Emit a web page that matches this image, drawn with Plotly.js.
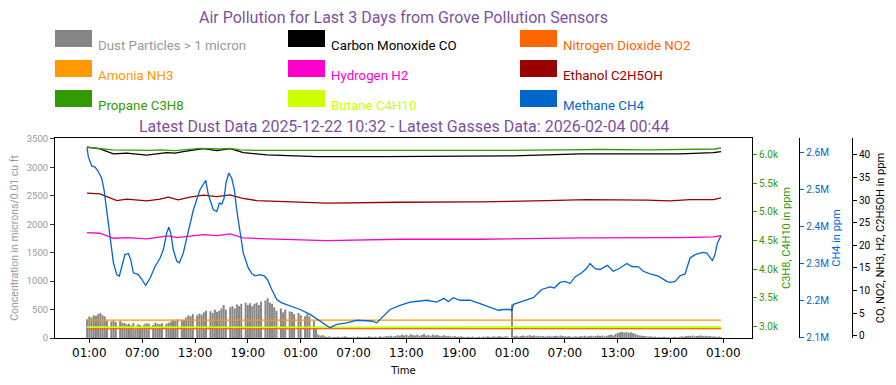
<!DOCTYPE html>
<html><head><meta charset="utf-8">
<script src="https://cdn.plot.ly/plotly-3.0.1.min.js"></script>
<style>body{margin:0;background:#fff}#c{width:896px;height:385px}</style>
</head><body><div id="c"></div>
<script>
// ---------------- DATA ----------------
const mainTitle = "Air Pollution for Last 3 Days from Grove Pollution Sensors";
const subTitle = "Latest Dust Data 2025-12-22 10:32 - Latest Gasses Data: 2026-02-04 00:44";

const legendNames = ["Dust Particles > 1 micron","Carbon Monoxide CO","Nitrogen Dioxide NO2",
  "Amonia NH3","Hydrogen H2","Ethanol C2H5OH","Propane C3H8","Butane C4H10","Methane CH4"];
const legendColors = ["#858585","#000000","#ff6600","#ff9900","#ff00cc","#990000","#339900","#ccff00","#0066cc"];
const legendTextColors = ["#999999","#000000","#ff6600","#ff9900","#ff00cc","#990000","#339900","#ccff00","#0066cc"];

// Dust: one reading every 15 minutes starting 2026-02-01 00:45
const dustStart = "2026-02-01 00:45";
const dustStepMin = 15;
const dustValues = [330,
 380,360,400,390, 420,440,400,380, 300,0,290,310, 280,0,300,270, 260,240,250,220, 260,150,240,230,
 200,240,260,250, 0,230,270,250, 240,260,0,250, 270,290,320,300, 330,0,320,310, 360,400,380,420,
 0,400,430,410, 450,480,0,470, 440,500,460,480, 520,580,500,0, 540,560,520,590, 560,600,0,620,
 580,610,560,600, 620,580,640,0, 660,700,620,600, 540,480,0,520, 450,500,0,470, 460,420,0,440,
 400,0,380,420, 380,0,300,200, 60,40,50,30, 20,30,10,20, 15,25,10,20, 30,20,10,15,
 20,10,25,15, 10,20,15,30, 20,15,25,10, 30,20,25,35, 30,40,25,35, 50,40,60,45,
 55,40,65,50, 45,60,40,55, 70,45,50,40, 60,45,55,40, 35,50,30,40, 30,25,35,20,
 25,30,20,15, 20,15,25,10, 15,20,10,25, 20,30,15,25, 30,20,35,25, 20,30,25,0,
 590,30,40,25, 35,45,30,40, 50,35,45,30, 40,30,35,25, 30,40,25,35, 40,30,45,35,
 30,25,35,20, 25,30,20,35, 30,40,25,35, 40,30,35,45, 35,45,30,40, 50,60,45,70,
 90,100,110,95, 105,90,100,85, 70,55,45,40, 35,30,25,30, 20,25,15,20, 15,20,10,15,
 10,15,20,10, 20,30,25,35, 40,35,45,30, 35,40,45,35, 40,30,35,25, 30,20,25,15];

const coTimes = ["2026-02-01 00:44","2026-02-01 02:13","2026-02-01 03:44","2026-02-01 05:15","2026-02-01 07:31",
 "2026-02-01 09:47","2026-02-01 10:44","2026-02-01 11:40","2026-02-01 13:57","2026-02-01 15:28","2026-02-01 16:59",
 "2026-02-01 18:29","2026-02-01 21:09","2026-02-02 02:49","2026-02-02 10:23","2026-02-02 17:35","2026-02-03 01:09",
 "2026-02-03 08:43","2026-02-03 20:05","2026-02-03 23:52","2026-02-04 00:44"];
const coValues = [41.71,41.33,40.22,40.38,39.94,40.51,40.38,40.73,41.40,40.96,41.40,40.51,40.00,39.63,39.63,39.78,39.78,40.22,40.22,40.51,40.73];

const ethTimes = ["2026-02-01 00:44","2026-02-01 02:13","2026-02-01 02:59","2026-02-01 04:07","2026-02-01 05:15",
 "2026-02-01 06:23","2026-02-01 07:31","2026-02-01 09:02","2026-02-01 09:58","2026-02-01 11:06","2026-02-01 12:26",
 "2026-02-01 13:57","2026-02-01 15:28","2026-02-01 16:59","2026-02-01 18:18","2026-02-01 20:01","2026-02-01 23:02",
 "2026-02-02 03:58","2026-02-02 12:17","2026-02-02 21:22","2026-02-03 04:57","2026-02-03 09:29","2026-02-03 16:18",
 "2026-02-03 18:57","2026-02-03 21:13","2026-02-03 23:52","2026-02-04 00:44"];
const ethValues = [31.53,31.37,30.77,29.89,30.20,30.04,29.82,30.20,30.64,30.04,30.64,31.08,30.77,31.15,30.42,29.89,29.67,
 29.31,29.53,29.60,29.89,30.11,29.98,29.82,30.11,30.11,30.49];

const h2Times = ["2026-02-01 00:44","2026-02-01 02:13","2026-02-01 03:44","2026-02-01 05:15","2026-02-01 07:31",
 "2026-02-01 09:58","2026-02-01 10:56","2026-02-01 12:26","2026-02-01 13:57","2026-02-01 15:28","2026-02-01 16:59",
 "2026-02-01 18:29","2026-02-01 21:09","2026-02-02 03:58","2026-02-02 12:17","2026-02-02 21:22","2026-02-03 08:43",
 "2026-02-03 20:05","2026-02-03 23:52","2026-02-04 00:44"];
const h2Values = [22.80,22.67,21.56,21.70,21.41,22.07,21.70,22.07,22.36,22.14,22.51,21.63,21.41,21.03,21.34,21.34,21.63,21.70,21.85,22.14];

const nh3Times = ["2026-02-01 00:44","2026-02-02 12:44","2026-02-04 00:44"];
const nh3Values = [3.43,3.43,3.43];
const no2Times = ["2026-02-01 00:44","2026-02-02 12:44","2026-02-04 00:44"];
const no2Values = [1.55,1.55,1.55];

const propTimes = ["2026-02-01 00:44","2026-02-01 02:13","2026-02-01 03:41","2026-02-01 07:54","2026-02-01 09:02",
 "2026-02-01 10:44","2026-02-01 13:34","2026-02-01 15:51","2026-02-01 16:59","2026-02-01 18:07","2026-02-01 20:23",
 "2026-02-02 00:56","2026-02-02 10:01","2026-02-02 17:58","2026-02-02 23:38","2026-02-03 06:27","2026-02-03 11:00",
 "2026-02-03 16:40","2026-02-03 22:21","2026-02-04 00:03","2026-02-04 00:44"];
const propValues = [6122,6101,6075,6066,6078,6062,6101,6092,6104,6075,6066,6066,6062,6069,6066,6075,6083,6075,6083,6092,6113];

const butTimes = ["2026-02-01 00:44","2026-02-01 12:00","2026-02-02 00:00","2026-02-02 12:00","2026-02-03 00:00","2026-02-03 12:00","2026-02-04 00:44"];
const butValues = [2992,2988,2994,2990,2993,2989,2992];

const ch4Times = ["2026-02-01 00:44","2026-02-01 00:53","2026-02-01 01:16","2026-02-01 01:39","2026-02-01 02:01",
 "2026-02-01 02:24","2026-02-01 02:40","2026-02-01 02:59","2026-02-01 03:21","2026-02-01 03:44","2026-02-01 04:07",
 "2026-02-01 04:24","2026-02-01 04:41","2026-02-01 05:03","2026-02-01 05:26","2026-02-01 05:42","2026-02-01 06:00",
 "2026-02-01 06:34","2026-02-01 06:57","2026-02-01 07:24","2026-02-01 07:54","2026-02-01 08:28","2026-02-01 09:02",
 "2026-02-01 09:24","2026-02-01 09:47","2026-02-01 10:01","2026-02-01 10:15","2026-02-01 10:32","2026-02-01 10:56",
 "2026-02-01 11:13","2026-02-01 11:40","2026-02-01 12:15","2026-02-01 12:49","2026-02-01 13:34","2026-02-01 14:13",
 "2026-02-01 14:31","2026-02-01 15:05","2026-02-01 15:28","2026-02-01 15:46","2026-02-01 16:02","2026-02-01 16:18",
 "2026-02-01 16:31","2026-02-01 16:50","2026-02-01 17:10","2026-02-01 17:28","2026-02-01 17:44","2026-02-01 18:07",
 "2026-02-01 18:29","2026-02-01 19:03","2026-02-01 19:27","2026-02-01 19:49","2026-02-01 20:23","2026-02-01 20:50",
 "2026-02-01 21:13","2026-02-01 21:43","2026-02-01 22:17","2026-02-01 22:51","2026-02-01 23:36","2026-02-02 00:22",
 "2026-02-02 00:56","2026-02-02 02:04","2026-02-02 03:12","2026-02-02 04:20","2026-02-02 05:06","2026-02-02 06:14",
 "2026-02-02 07:22","2026-02-02 08:30","2026-02-02 09:04","2026-02-02 09:38","2026-02-02 10:12","2026-02-02 11:09",
 "2026-02-02 12:17","2026-02-02 13:25","2026-02-02 14:33","2026-02-02 15:19","2026-02-02 16:27","2026-02-02 17:17",
 "2026-02-02 17:46","2026-02-02 18:20","2026-02-02 19:06","2026-02-02 20:14","2026-02-02 21:22","2026-02-02 22:30",
 "2026-02-02 23:27","2026-02-03 00:01","2026-02-03 00:47","2026-02-03 00:58","2026-02-03 01:09","2026-02-03 01:55",
 "2026-02-03 02:51","2026-02-03 03:25","2026-02-03 04:22","2026-02-03 05:19","2026-02-03 05:48","2026-02-03 06:27",
 "2026-02-03 07:01","2026-02-03 07:35","2026-02-03 08:09","2026-02-03 08:55","2026-02-03 09:24","2026-02-03 09:52",
 "2026-02-03 10:26","2026-02-03 11:00","2026-02-03 11:49","2026-02-03 12:30","2026-02-03 13:16","2026-02-03 14:02",
 "2026-02-03 14:36","2026-02-03 15:21","2026-02-03 15:55","2026-02-03 16:40","2026-02-03 17:37","2026-02-03 18:34",
 "2026-02-03 18:57","2026-02-03 19:31","2026-02-03 20:05","2026-02-03 20:39","2026-02-03 21:13","2026-02-03 21:47",
 "2026-02-03 22:21","2026-02-03 22:44","2026-02-03 23:07","2026-02-03 23:24","2026-02-03 23:45","2026-02-04 00:03",
 "2026-02-04 00:19","2026-02-04 00:44"];
const ch4Values = [2613000,2588000,2563000,2560000,2548000,2530000,2499000,2445000,2373000,2302000,2270000,
 2266000,2292000,2324000,2327000,2310000,2275000,2270000,2257000,2241000,2261000,2292000,2315000,
 2337000,2382000,2398000,2382000,2337000,2306000,2302000,2328000,2391000,2445000,2499000,2524000,
 2485000,2445000,2440000,2463000,2460000,2476000,2517000,2544000,2530000,2499000,2445000,2382000,
 2328000,2288000,2273000,2267000,2270000,2267000,2257000,2230000,2203000,2194000,2187000,2181000,
 2176000,2163000,2145000,2127000,2136000,2140000,2147000,2147000,2145000,2140000,2154000,2176000,
 2187000,2196000,2199000,2201000,2196000,2206000,2197000,2208000,2201000,2201000,2192000,2183000,
 2174000,2176000,2176000,2173000,2190000,2196000,2203000,2208000,2230000,2237000,2234000,2249000,
 2252000,2246000,2264000,2275000,2285000,2300000,2286000,2284000,2295000,2279000,2288000,2300000,
 2292000,2291000,2279000,2272000,2266000,2252000,2249000,2252000,2267000,2272000,2315000,2324000,
 2328000,2330000,2328000,2319000,2308000,2324000,2355000,2375000];

// ---------------- BUILD ----------------
function fmt(ms){const d=new Date(ms);const p=n=>String(n).padStart(2,'0');
  return d.getUTCFullYear()+'-'+p(d.getUTCMonth()+1)+'-'+p(d.getUTCDate())+' '+p(d.getUTCHours())+':'+p(d.getUTCMinutes());}
const t0 = Date.parse(dustStart.replace(' ','T')+':00Z');
const dustTimes = dustValues.map((_,i)=>fmt(t0+i*dustStepMin*60000));

const L=55, R=852, TOP=138, BOT=338;
const px=x=>(x-L)/(R-L), py=y=>(BOT-y)/(BOT-TOP);

// axis ids: y = dust, y2 = CO etc., y3 = C3H8/C4H10, y4 = CH4
const lw=1.3;
const traces=[
 {type:'bar',x:dustTimes,y:dustValues,width:13.5*60000,marker:{color:legendColors[0],line:{width:0}},yaxis:'y',xaxis:'x'},
 {type:'scatter',mode:'lines',x:coTimes,y:coValues,line:{color:legendColors[1],width:lw},yaxis:'y2'},
 {type:'scatter',mode:'lines',x:no2Times,y:no2Values,line:{color:legendColors[2],width:lw},yaxis:'y2'},
 {type:'scatter',mode:'lines',x:nh3Times,y:nh3Values,line:{color:legendColors[3],width:lw},yaxis:'y2'},
 {type:'scatter',mode:'lines',x:h2Times,y:h2Values,line:{color:legendColors[4],width:lw},yaxis:'y2'},
 {type:'scatter',mode:'lines',x:ethTimes,y:ethValues,line:{color:legendColors[5],width:lw},yaxis:'y2'},
 {type:'scatter',mode:'lines',x:propTimes,y:propValues,line:{color:legendColors[6],width:lw},yaxis:'y3'},
 {type:'scatter',mode:'lines',x:butTimes,y:butValues,line:{color:legendColors[7],width:1.6},yaxis:'y3'},
 {type:'scatter',mode:'lines',x:ch4Times,y:ch4Values,line:{color:legendColors[8],width:lw},yaxis:'y4'}
];

const shapes=[], annotations=[];
const colX=[55,288,520];
legendNames.forEach((n,k)=>{
  const c=k%3, r=Math.floor(k/3);
  const x0=colX[c], y0=30+30*r;
  shapes.push({type:'rect',xref:'paper',yref:'paper',x0:px(x0),x1:px(x0+37),y0:py(y0+17),y1:py(y0),
    fillcolor:legendColors[k],line:{width:0}});
  annotations.push({xref:'paper',yref:'paper',x:px(x0+41),y:py(45.5+30*r),xanchor:'left',yanchor:'middle',
    text:n,showarrow:false,font:{family:'Roboto',size:13.3,color:legendTextColors[k]}});
});
annotations.push({xref:'paper',yref:'paper',x:px(403.5),y:py(126.5),xanchor:'center',yanchor:'middle',
  text:subTitle,showarrow:false,font:{family:'Roboto',size:16,color:'#7f4f9f'}});

const common={showgrid:false,zeroline:false,ticks:'outside',ticklen:4,tickwidth:1,showline:true,linecolor:'#000',linewidth:1};
const layout={
  width:896,height:385,paper_bgcolor:'#fff',plot_bgcolor:'#fff',showlegend:false,hovermode:false,
  margin:{l:L,r:896-R,t:TOP,b:385-BOT,pad:0},
  title:{text:mainTitle,xref:'paper',x:px(403.5),xanchor:'center',yref:'container',y:1-17/385,yanchor:'middle',
    font:{family:'Roboto',size:16,color:'#7f4f9f'}},
  xaxis:Object.assign({},common,{type:'date',domain:[0,(752-L)/(R-L)],range:['2026-01-31 21:06','2026-02-04 04:15'],
    tick0:'2026-02-01 01:00',dtick:6*3600000,tickformat:'%H:%M',tickcolor:'#000',mirror:true,
    tickfont:{family:'DejaVu Sans',size:12,color:'#000'},
    title:{text:'Time',font:{family:'DejaVu Sans',size:10,color:'#000'},standoff:7}}),
  yaxis:Object.assign({},common,{range:[0,3515],tick0:0,dtick:500,tickcolor:'#333',
    tickfont:{family:'Roboto',size:9.5,color:'#999'},
    title:{text:'Concentration in microns/0.01 cu ft',font:{family:'Roboto',size:10.5,color:'#999'},standoff:6}}),
  yaxis2:Object.assign({},common,{overlaying:'y',side:'right',anchor:'free',position:1,range:[-0.51,43.74],tick0:0,dtick:5,
    tickcolor:'#000',tickfont:{family:'Roboto',size:10,color:'#000'},
    title:{text:'CO, NO2, NH3, H2, C2H5OH in ppm',font:{family:'Roboto',size:11,color:'#000'},standoff:6}}),
  yaxis3:Object.assign({},common,{overlaying:'y',side:'right',anchor:'x',range:[2803,6283],tick0:3000,dtick:500,tickformat:'.2s',
    tickcolor:'#339900',tickfont:{family:'Roboto',size:10,color:'#339900'},
    title:{text:'C3H8, C4H10 in ppm',font:{family:'Roboto',size:11,color:'#339900'},standoff:4}}),
  yaxis4:Object.assign({},common,{overlaying:'y',side:'right',anchor:'free',position:(799.3-L)/(R-L),range:[2099200,2638400],
    tick0:2100000,dtick:100000,tickformat:'.2s',
    tickcolor:'#0066cc',tickfont:{family:'Roboto',size:10,color:'#0066cc'},
    title:{text:'CH4 in ppm',font:{family:'Roboto',size:11,color:'#0066cc'},standoff:4}}),
  shapes:shapes,annotations:annotations
};
Plotly.newPlot('c',traces,layout,{staticPlot:true,displayModeBar:false});
</script></body></html>
